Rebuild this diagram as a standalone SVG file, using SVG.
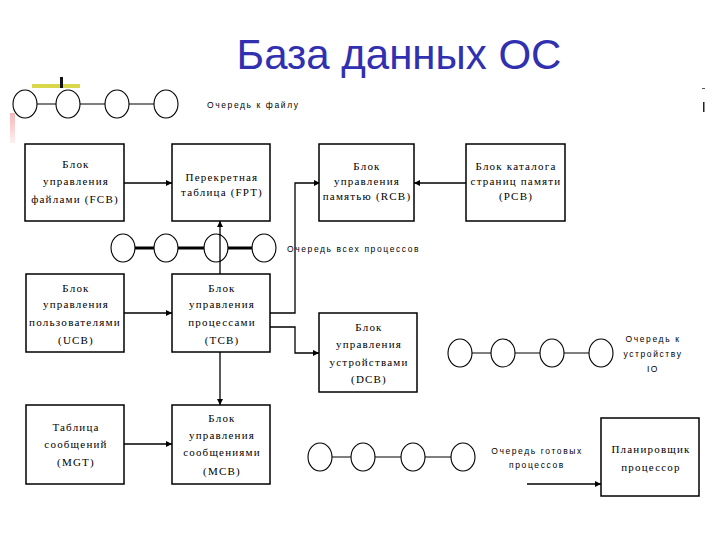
<svg xmlns="http://www.w3.org/2000/svg" width="720" height="540" viewBox="0 0 720 540">
<defs>
<style>
.box{fill:#fff;stroke:#000;stroke-width:1.5}
.q{fill:#fff;stroke:#000;stroke-width:1.1}
.ql{stroke:#000;stroke-width:1.2}
.qt{stroke:#000;stroke-width:3}
.c{fill:none;stroke:#000;stroke-width:1.3}
.t{font-family:"Liberation Serif","DejaVu Serif",serif;font-size:11px;letter-spacing:1.2px;text-anchor:middle;fill:#000}
.s{font-family:"Liberation Sans","DejaVu Sans",sans-serif;font-size:8.5px;letter-spacing:1.6px;fill:#000}
.title{font-family:"Liberation Sans",Arial,sans-serif;font-size:42px;fill:#3030b0;text-anchor:middle}
</style>
<marker id="ah" viewBox="0 0 10 10" refX="10" refY="5" markerWidth="7" markerHeight="6" markerUnits="userSpaceOnUse" orient="auto">
<path d="M0,0 L10,5 L0,10 z" fill="#000"/>
</marker>
<linearGradient id="pink" x1="0" y1="0" x2="0" y2="1">
<stop offset="0" stop-color="#f4b8b8"/>
<stop offset="1" stop-color="#fff0f0"/>
</linearGradient>
</defs>
<rect width="720" height="540" fill="#fff"/>
<text class="title" x="399" y="69">База данных ОС</text>
<g id="decor">
<rect x="32" y="84" width="48" height="4" fill="#d8d84a"/>
<rect x="60" y="77" width="3" height="11" fill="#111"/>
<rect x="10" y="113" width="5" height="30" fill="url(#pink)"/>
<rect x="702" y="88" width="3" height="1" fill="#555"/>
<rect x="703" y="102" width="1.5" height="10" fill="#222"/>
</g>
<g id="connectors">
<line class="c" x1="124" y1="183" x2="172" y2="183" marker-end="url(#ah)"/>
<line class="c" x1="466" y1="183" x2="414" y2="183" marker-end="url(#ah)"/>
<polyline class="c" points="270,313 295,313 295,183 320,183" marker-end="url(#ah)"/>
<polyline class="c" points="270,327 295,327 295,353 319,353" marker-end="url(#ah)"/>
<line class="c" x1="124" y1="313" x2="172" y2="313" marker-end="url(#ah)"/>
<line class="c" x1="220" y1="274" x2="220" y2="221" marker-end="url(#ah)"/>
<line class="c" x1="220" y1="352" x2="220" y2="405" marker-end="url(#ah)"/>
<line class="c" x1="124" y1="444" x2="172" y2="444" marker-end="url(#ah)"/>
<line class="c" x1="527" y1="484" x2="601" y2="484" marker-end="url(#ah)"/>
</g>
<g id="queue-file">
<line class="ql" x1="25" y1="104" x2="166" y2="104"/>
<ellipse class="q" cx="25" cy="104" rx="12" ry="14"/>
<ellipse class="q" cx="68" cy="104" rx="12" ry="14"/>
<ellipse class="q" cx="117" cy="104" rx="12" ry="14"/>
<ellipse class="q" cx="166" cy="104" rx="12" ry="14"/>
<text class="s" x="207" y="108">Очередь к файлу</text>
</g>
<g id="queue-all">
<line class="qt" x1="123" y1="248" x2="264" y2="248"/>
<ellipse class="q" cx="123" cy="248" rx="12" ry="14"/>
<ellipse class="q" cx="166" cy="248" rx="12" ry="14"/>
<ellipse class="q" cx="216" cy="248" rx="12" ry="14"/>
<ellipse class="q" cx="264" cy="248" rx="12" ry="14"/>
<line class="c" x1="220" y1="234" x2="220" y2="262"/>
<text class="s" x="287" y="252">Очередь всех процессов</text>
</g>
<g id="queue-io">
<line class="ql" x1="460" y1="353" x2="601" y2="353"/>
<ellipse class="q" cx="460" cy="353" rx="12" ry="14"/>
<ellipse class="q" cx="503" cy="353" rx="12" ry="14"/>
<ellipse class="q" cx="552" cy="353" rx="12" ry="14"/>
<ellipse class="q" cx="601" cy="353" rx="12" ry="14"/>
<text class="s" x="653" y="342" text-anchor="middle">Очередь к</text>
<text class="s" x="653" y="357" text-anchor="middle">устройству</text>
<text class="s" x="653" y="372" text-anchor="middle">IO</text>
</g>
<g id="queue-ready">
<line class="ql" x1="320" y1="457" x2="463" y2="457"/>
<ellipse class="q" cx="320" cy="457" rx="12" ry="14"/>
<ellipse class="q" cx="363" cy="457" rx="12" ry="14"/>
<ellipse class="q" cx="413" cy="457" rx="12" ry="14"/>
<ellipse class="q" cx="463" cy="457" rx="12" ry="14"/>
<text class="s" x="537" y="454" text-anchor="middle">Очередь готовых</text>
<text class="s" x="537" y="468" text-anchor="middle">процессов</text>
</g>
<g id="fcb">
<rect class="box" x="25" y="144" width="99" height="77"/>
<text class="t" x="76" y="168">Блок</text>
<text class="t" x="76" y="185">управления</text>
<text class="t" x="75" y="203">файлами (FCB)</text>
</g>
<g id="fpt">
<rect class="box" x="172" y="144" width="98" height="77"/>
<text class="t" x="222" y="181">Перекретная</text>
<text class="t" x="222" y="196">таблица (FPT)</text>
</g>
<g id="rcb">
<rect class="box" x="319" y="144" width="95" height="77"/>
<text class="t" x="367" y="170">Блок</text>
<text class="t" x="367" y="185">управления</text>
<text class="t" x="367" y="200">памятью (RCB)</text>
</g>
<g id="pcb">
<rect class="box" x="466" y="144" width="99" height="77"/>
<text class="t" x="516" y="170">Блок каталога</text>
<text class="t" x="516" y="185">страниц памяти</text>
<text class="t" x="516" y="200">(PCB)</text>
</g>
<g id="ucb">
<rect class="box" x="26" y="274" width="98" height="78"/>
<text class="t" x="76" y="292">Блок</text>
<text class="t" x="76" y="308">управления</text>
<text class="t" x="75" y="326" textLength="92" lengthAdjust="spacingAndGlyphs">пользователями</text>
<text class="t" x="76" y="344">(UCB)</text>
</g>
<g id="tcb">
<rect class="box" x="172" y="274" width="98" height="78"/>
<text class="t" x="222" y="292">Блок</text>
<text class="t" x="222" y="308">управления</text>
<text class="t" x="222" y="326">процессами</text>
<text class="t" x="222" y="344">(TCB)</text>
</g>
<g id="dcb">
<rect class="box" x="319" y="313" width="98" height="79"/>
<text class="t" x="369" y="331">Блок</text>
<text class="t" x="369" y="348">управления</text>
<text class="t" x="369" y="366">устройствами</text>
<text class="t" x="369" y="383">(DCB)</text>
</g>
<g id="mgt">
<rect class="box" x="26" y="405" width="98" height="79"/>
<text class="t" x="76" y="431">Таблица</text>
<text class="t" x="76" y="448">сообщений</text>
<text class="t" x="76" y="466">(MGT)</text>
</g>
<g id="mcb">
<rect class="box" x="172" y="405" width="98" height="79"/>
<text class="t" x="222" y="422">Блок</text>
<text class="t" x="222" y="439">управления</text>
<text class="t" x="222" y="456">сообщениями</text>
<text class="t" x="222" y="475">(MCB)</text>
</g>
<g id="scheduler">
<rect class="box" x="601" y="418" width="98" height="78"/>
<text class="t" x="651" y="453">Планировщик</text>
<text class="t" x="651" y="471">процессор</text>
</g>
</svg>
